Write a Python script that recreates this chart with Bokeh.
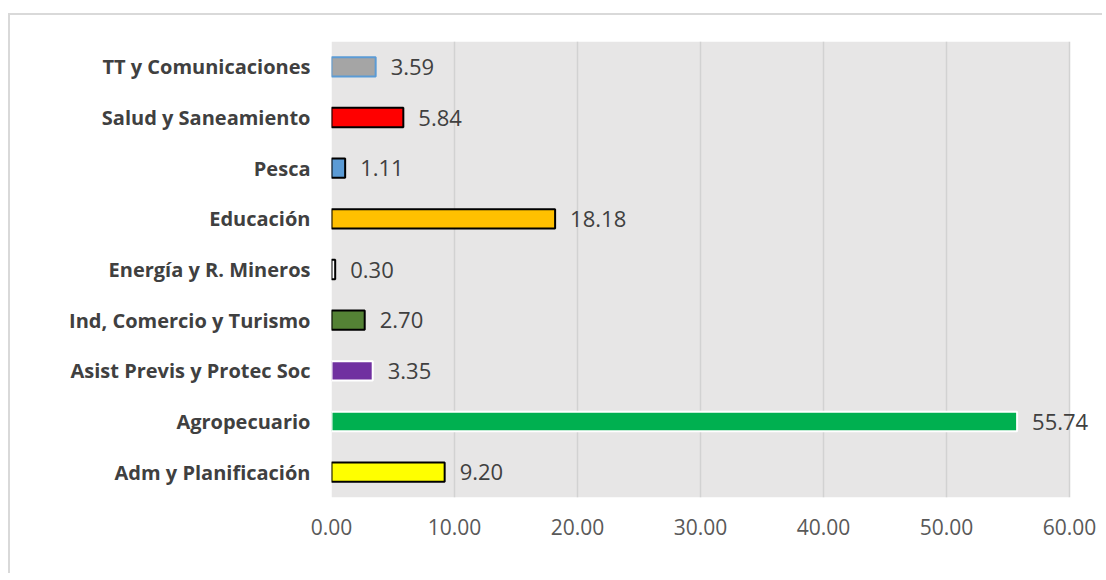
from bokeh.plotting import figure
from bokeh.models import (FactorRange, Range1d, NumeralTickFormatter, FixedTicker,
                          ColumnDataSource, LabelSet, BoxAnnotation)
from bokeh.core.properties import value
from bokeh.embed import file_html
from bokeh.resources import INLINE

# Data (bottom to top)
categories = ["Adm y Planificación", "Agropecuario", "Asist Previs y Protec Soc",
              "Ind, Comercio y Turismo", "Energía y R. Mineros", "Educación",
              "Pesca", "Salud y Saneamiento", "TT y Comunicaciones"]
values = [9.20, 55.74, 3.35, 2.70, 0.30, 18.18, 1.11, 5.84, 3.59]
fill_colors = ["#ffff00", "#00b050", "#7030a0", "#548235", "#ffffff",
               "#ffc000", "#5b9bd5", "#ff0000", "#a5a5a5"]
line_colors = ["#000000", "#ffffff", "#ffffff", "#000000", "#000000",
               "#000000", "#000000", "#000000", "#5b9bd5"]
x_ticks = [0, 10, 20, 30, 40, 50, 60]
x_max = 60

src = ColumnDataSource(dict(
    cat=categories, val=values, fill=fill_colors, line=line_colors,
    lab=[f"{v:.2f}" for v in values],
))

# frame extends a bit past 60 so that the last value label is not clipped
p = figure(width=1094, height=560, output_backend="svg", toolbar_location=None,
           y_range=FactorRange(factors=categories, range_padding=0),
           x_range=Range1d(0, x_max * (1100 - 331) / 738),
           min_border_left=321, min_border_right=4, min_border_top=26, min_border_bottom=78,
           margin=(13, 0, 0, 8))
p.styles = {"border-top": "2px solid #d9d9d9", "border-left": "2px solid #d9d9d9"}

p.background_fill_color = "#ffffff"
p.border_fill_color = "#ffffff"
p.outline_line_color = None

plot_bg = BoxAnnotation(left=0, right=x_max, fill_color="#e7e6e6", fill_alpha=1,
                        line_color=None, level="image")
p.add_layout(plot_bg)

p.hbar(y="cat", right="val", left=0, height=0.38, source=src,
       fill_color="fill", line_color="line", line_width=2)

labels = LabelSet(x="val", y="cat", text="lab", source=src, x_offset=15,
                  text_baseline="middle", text_align="left",
                  text_font=value("Open Sans"), text_font_size="22px", text_color="#404040")
p.add_layout(labels)

p.ygrid.grid_line_color = None
p.xgrid.ticker = FixedTicker(ticks=x_ticks)
p.xgrid.grid_line_color = "#d2d2d2"
p.xgrid.grid_line_width = 1.5

p.xaxis.ticker = FixedTicker(ticks=x_ticks)
p.xaxis.formatter = NumeralTickFormatter(format="0.00")
p.xaxis.axis_line_color = None
p.xaxis.major_tick_line_color = None
p.xaxis.minor_tick_line_color = None
p.xaxis.major_label_text_font = "Open Sans"
p.xaxis.major_label_text_font_size = "21px"
p.xaxis.major_label_text_color = "#595959"
p.xaxis.major_label_standoff = 15

p.yaxis.axis_line_color = None
p.yaxis.major_tick_line_color = None
p.yaxis.major_label_text_font = "Open Sans"
p.yaxis.major_label_text_font_style = "bold"
p.yaxis.major_label_text_font_size = "20px"
p.yaxis.major_label_text_color = "#404040"
p.yaxis.major_label_standoff = 15

open("out.html", "w").write(file_html(p, INLINE))
